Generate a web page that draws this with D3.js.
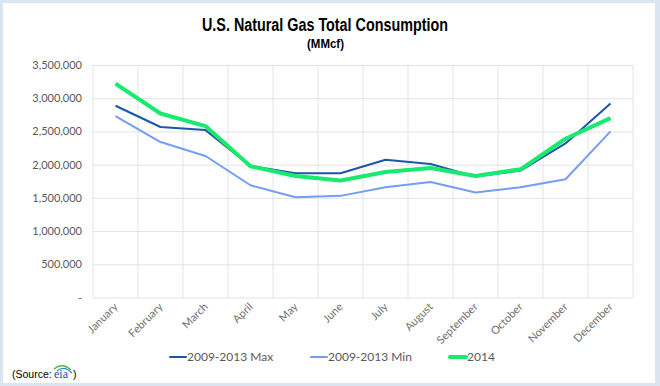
<!DOCTYPE html>
<html>
<head>
	<style>
		body {
		    margin: 0;
		    background-color: #dbe5f1;
		}
		svg {
			display: block;
		}
	</style>
	<script src="https://cdn.jsdelivr.net/npm/d3@7"></script>
</head>
<body>
	<div id="chart"></div>
	<script>
		// data (MMcf)
		var months = ["January", "February", "March", "April", "May", "June",
			"July", "August", "September", "October", "November", "December"];
		var maxValues = [2887000, 2567000, 2520000, 1980000, 1870000, 1870000,
			2074000, 2010000, 1820000, 1910000, 2320000, 2920000];
		var minValues = [2730000, 2340000, 2130000, 1690000, 1510000, 1530000,
			1660000, 1740000, 1580000, 1660000, 1780000, 2500000];
		var values2014 = [3220000, 2770000, 2580000, 1975000, 1830000, 1760000,
			1890000, 1950000, 1830000, 1930000, 2390000, 2700000];
		var yTicks = [0, 500000, 1000000, 1500000, 2000000, 2500000, 3000000, 3500000];

		var series = [
			{name: "2009-2013 Max", values: maxValues, color: "#1b57a9", width: 2},
			{name: "2009-2013 Min", values: minValues, color: "#739ef3", width: 2},
			{name: "2014", values: values2014, color: "#17ea6f", width: 4}
		];

		var W = 660, H = 386;
		// plot box (window.top is reserved, so no plain "top")
		var plotL = 93, plotR = 633, plotT = 65, plotB = 297.5;
		// no narrow font installed, so squeeze Liberation Sans with textLength
		var sans = "'Liberation Sans', Arial, sans-serif";

		var svg = d3.select("#chart").append("svg")
			.attr("width", W)
			.attr("height", H);

		// white card inside the light blue frame
		svg.append("rect")
			.attr("x", 3).attr("y", 3)
			.attr("width", 652).attr("height", 380)
			.attr("fill", "#ffffff");

		var x = d3.scaleBand().domain(months).range([plotL, plotR]);
		var y = d3.scaleLinear().domain([0, 3500000]).range([plotB, plotT]);

		// horizontal grid + y labels
		var yAxis = d3.axisLeft(y)
			.tickValues(yTicks)
			.tickSize(-(plotR - plotL))
			.tickPadding(11)
			.tickFormat(function(d) { return d === 0 ? "-" : d3.format(",")(d); });

		var gy = svg.append("g")
			.attr("transform", "translate(" + plotL + ",0)")
			.call(yAxis);
		gy.select(".domain").remove();
		gy.selectAll("line").attr("stroke", "#e3e3e3");
		gy.selectAll("text")
			.attr("fill", "#595959")
			.style("font-family", "Lato, sans-serif")
			.style("font-size", "11px");

		// vertical grid between months
		svg.append("g").selectAll("line")
			.data(d3.range(months.length + 1))
			.join("line")
			.attr("x1", function(i) { return plotL + i * x.bandwidth(); })
			.attr("x2", function(i) { return plotL + i * x.bandwidth(); })
			.attr("y1", plotT)
			.attr("y2", plotB)
			.attr("stroke", "#e3e3e3");

		// rotated month labels
		svg.append("g").selectAll("text")
			.data(months)
			.join("text")
			.attr("transform", function(d) {
				return "translate(" + (x(d) + x.bandwidth() / 2 + 3) + "," + (plotB + 10) + ") rotate(-45)";
			})
			.attr("text-anchor", "end")
			.attr("fill", "#6f6f6f")
			.style("font-family", "Lato, sans-serif")
			.style("font-size", "11px")
			.text(function(d) { return d; });

		// lines
		var line = d3.line()
			.x(function(d, i) { return x(months[i]) + x.bandwidth() / 2; })
			.y(function(d) { return y(d); });

		svg.append("g").selectAll("path")
			.data(series)
			.join("path")
			.attr("d", function(s) { return line(s.values); })
			.attr("fill", "none")
			.attr("stroke", function(s) { return s.color; })
			.attr("stroke-width", function(s) { return s.width; })
			.attr("stroke-linejoin", "round");

		// title
		svg.append("text")
			.attr("x", 202).attr("y", 31)
			.attr("textLength", 246)
			.attr("lengthAdjust", "spacingAndGlyphs")
			.style("font-family", sans)
			.style("font-weight", "bold")
			.style("font-size", "18px")
			.attr("fill", "#000")
			.text("U.S. Natural Gas Total Consumption");
		svg.append("text")
			.attr("x", 307).attr("y", 48)
			.attr("textLength", 37)
			.attr("lengthAdjust", "spacingAndGlyphs")
			.style("font-family", sans)
			.style("font-weight", "bold")
			.style("font-size", "13px")
			.attr("fill", "#000")
			.text("(MMcf)");

		// legend
		var legendX = [170, 311, 450];
		var lg = svg.append("g").selectAll("g")
			.data(series)
			.join("g")
			.attr("transform", function(s, i) { return "translate(" + legendX[i] + ",357)"; });
		lg.append("line")
			.attr("x1", 0).attr("x2", 16)
			.attr("stroke", function(s) { return s.color; })
			.attr("stroke-width", function(s) { return s.width; })
			.attr("stroke-linecap", "round");
		lg.append("text")
			.attr("x", 17).attr("y", 4)
			.attr("fill", "#595959")
			.style("font-family", "Lato, sans-serif")
			.style("font-size", "12px")
			.text(function(s) { return s.name; });

		// source note
		var src = svg.append("g").attr("transform", "translate(12,378)");
		src.append("text")
			.style("font-family", sans)
			.style("font-size", "10.5px")
			.attr("fill", "#000")
			.text("(Source:");
		src.append("text")
			.attr("x", 42)
			.style("font-family", "'Liberation Serif', serif")
			.style("font-size", "12px")
			.attr("fill", "#1d4f91")
			.text("eia");
		src.append("path")
			.attr("d", "M42,-9 Q50,-16 59,-8")
			.attr("fill", "none")
			.attr("stroke", "#5ab04a")
			.attr("stroke-width", 1.5);
		src.append("path")
			.attr("d", "M45,-7 Q52,-13 60,-5")
			.attr("fill", "none")
			.attr("stroke", "#2a8fd0")
			.attr("stroke-width", 1.2);
		src.append("text")
			.attr("x", 61)
			.style("font-family", sans)
			.style("font-size", "10.5px")
			.attr("fill", "#000")
			.text(")");
	</script>
</body>
</html>
